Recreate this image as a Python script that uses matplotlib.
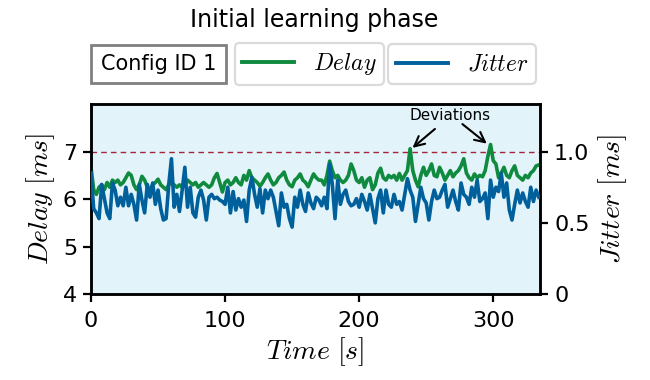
import numpy as np
import matplotlib
matplotlib.use("Agg")
import matplotlib.pyplot as plt
from matplotlib.lines import Line2D

plt.rcParams['mathtext.fontset'] = 'cm'
plt.rcParams['font.family'] = ['DejaVu Sans']

# ---- data (2 s sampling) ----
time_s = np.arange(0, 336, 2)

delay_ms = [
    6.67, 6.2, 6.1, 6.25, 6.3, 6.2, 6.35, 6.25, 6.4, 6.35, 6.4, 6.3, 6.35, 6.45, 6.55, 6.5, 6.3, 6.2, 6.3, 6.48, 6.4, 6.25, 6.2, 6.3, 6.35, 6.42, 6.3, 6.25,
    6.2, 6.3, 6.35, 6.3, 6.25, 6.3, 6.25, 6.3, 6.4, 6.35, 6.3, 6.35, 6.25, 6.3, 6.35, 6.3, 6.25, 6.3, 6.45, 6.54, 6.35, 6.15, 6.35, 6.4, 6.3, 6.35, 6.45, 6.35, 6.3, 6.5,
    6.4, 6.6, 6.45, 6.4, 6.35, 6.27, 6.35, 6.45, 6.53, 6.4, 6.3, 6.35, 6.45, 6.5, 6.57, 6.4, 6.3, 6.26, 6.4, 6.45, 6.53, 6.4, 6.35, 6.26, 6.4, 6.53, 6.45, 6.4,
    6.4, 6.3, 6.5, 6.8, 6.6, 6.45, 6.5, 6.4, 6.35, 6.4, 6.5, 6.74, 6.6, 6.4, 6.35, 6.45, 6.25, 6.4, 6.45, 6.2, 6.3, 6.55, 6.65, 6.45, 6.4, 6.5, 6.45, 6.5, 6.4,
    6.54, 6.4, 6.5, 6.6, 7.06, 6.6, 6.4, 6.26, 6.5, 6.67, 6.5, 6.6, 6.74, 6.5, 6.47, 6.67, 6.55, 6.4, 6.5, 6.6, 6.47, 6.55, 6.6, 6.7, 6.85, 6.55, 6.45, 6.4,
    6.53, 6.45, 6.5, 6.47, 6.6, 6.9, 7.15, 6.81, 6.74, 6.45, 6.55, 6.67, 6.5, 6.45, 6.6, 6.7, 6.5, 6.45, 6.4, 6.5, 6.45, 6.55, 6.6, 6.7, 6.72,
]

jitter_ms = [
    0.85, 0.60, 0.57, 0.53, 0.77, 0.67, 0.57, 0.53, 0.78, 0.73, 0.62, 0.68, 0.62, 0.75, 0.62, 0.70, 0.63, 0.52, 0.77, 0.66, 0.57, 0.77, 0.68, 0.78, 0.63, 0.73, 0.60, 0.52,
    0.53, 0.77, 0.95, 0.61, 0.70, 0.58, 0.73, 0.89, 0.61, 0.75, 0.57, 0.54, 0.68, 0.73, 0.66, 0.52, 0.68, 0.70, 0.67, 0.68, 0.66, 0.65, 0.63, 0.75, 0.57, 0.72, 0.59, 0.67, 0.61, 0.66,
    0.51, 0.73, 0.82, 0.70, 0.61, 0.74, 0.57, 0.73, 0.67, 0.73, 0.68, 0.58, 0.48, 0.71, 0.61, 0.63, 0.53, 0.47, 0.68, 0.61, 0.73, 0.63, 0.58, 0.71, 0.64, 0.60, 0.68, 0.66,
    0.62, 0.68, 0.60, 0.91, 0.77, 0.53, 0.80, 0.63, 0.70, 0.73, 0.65, 0.62, 0.63, 0.67, 0.61, 0.70, 0.65, 0.59, 0.70, 0.60, 0.50, 0.67, 0.73, 0.57, 0.73, 0.63, 0.61, 0.70, 0.63,
    0.65, 0.59, 0.70, 0.81, 0.73, 0.68, 0.51, 0.63, 0.75, 0.67, 0.64, 0.52, 0.65, 0.73, 0.67, 0.68, 0.73, 0.77, 0.61, 0.67, 0.73, 0.65, 0.59, 0.78, 0.70, 0.68, 0.63, 0.75,
    0.68, 0.80, 0.65, 0.67, 0.71, 0.53, 0.80, 0.68, 0.75, 0.72, 0.85, 0.68, 0.78, 0.59, 0.52, 0.63, 0.73, 0.64, 0.71, 0.65, 0.61, 0.75, 0.65, 0.73, 0.68,
]

delay_threshold = 7.0
deviation_times = [238, 298]
deviation_values = [7.06, 7.15]

x_ticks = [0, 100, 200, 300]
left_ticks = [4, 5, 6, 7]
right_ticks = [0, 0.5, 1.0]
right_ticklabels = ['0', '0.5', '1.0']

GREEN = '#0f8a3f'
BLUE = '#00609c'
BG = '#e2f4f9'

fig = plt.figure(figsize=(6.5, 3.8), dpi=100)
ax = fig.add_axes([0.140, 0.226, 0.691, 0.500])
ax2 = ax.twinx()

ax.set_facecolor(BG)
ax.plot(time_s, delay_ms, color=GREEN, lw=2.6, zorder=3, solid_joinstyle='round')
ax2.plot(time_s, jitter_ms, color=BLUE, lw=2.6, zorder=3, solid_joinstyle='round')
ax.axhline(delay_threshold, color='#a3243b', lw=1.0, ls=(0, (4, 3)), zorder=2)

ax.set_xlim(0, 335)
ax.set_ylim(4, 8)
ax2.set_ylim(0, 4 / 3)
ax.set_xticks(x_ticks)
ax.set_yticks(left_ticks)
ax2.set_yticks(right_ticks)
ax2.set_yticklabels(right_ticklabels)

ax.set_zorder(0)
ax2.set_zorder(1)
ax2.patch.set_visible(False)

for a in (ax, ax2):
    for s in a.spines.values():
        s.set_linewidth(1.8)
    a.tick_params(labelsize=16, width=1.6, length=6, pad=4)
ax.tick_params(axis='x', pad=6)

ax.set_xlabel(r'$Time\ [s]$', fontsize=20, labelpad=3)
ax.set_ylabel(r'$Delay\ [ms]$', fontsize=20, labelpad=4)
ax2.set_ylabel(r'$Jitter\ [ms]$', fontsize=20, labelpad=5)

# annotation
arrow_kw = dict(arrowstyle='->', color='black', lw=1.5, mutation_scale=18, shrinkB=1)
ax.annotate('Deviations', xy=(deviation_times[0] + 1, deviation_values[0]), xytext=(268, 7.75),
            ha='center', va='center', fontsize=11,
            arrowprops=dict(shrinkA=3, **arrow_kw))
ax.annotate('', xy=(deviation_times[1] - 2, deviation_values[1]), xytext=(277, 7.58),
            arrowprops=dict(shrinkA=0, **arrow_kw))

# title
fig.text(0.483, 0.947, 'Initial learning phase', ha='center', va='center', fontsize=17)

# "Config ID 1" box
fig.text(0.2438, 0.8316, 'Config ID 1', ha='center', va='center', fontsize=15,
         bbox=dict(boxstyle='square,pad=0.45', fc='white', ec='0.5', lw=2.0))

h_delay = Line2D([], [], color=GREEN, lw=2.8)
h_jitter = Line2D([], [], color=BLUE, lw=2.8)
leg1 = fig.legend([h_delay], [r'$Delay$'], loc='center', bbox_to_anchor=(0.476, 0.8316),
                  fontsize=17, handlelength=2.2, frameon=True, borderpad=0.32)
leg2 = fig.legend([h_jitter], [r'$Jitter$'], loc='center', bbox_to_anchor=(0.711, 0.8316),
                  fontsize=17, handlelength=2.2, frameon=True, borderpad=0.32)
for lg in (leg1, leg2):
    lg.get_frame().set_edgecolor('0.82')
    lg.get_frame().set_linewidth(1.6)

fig.savefig('out.png', dpi=100)
